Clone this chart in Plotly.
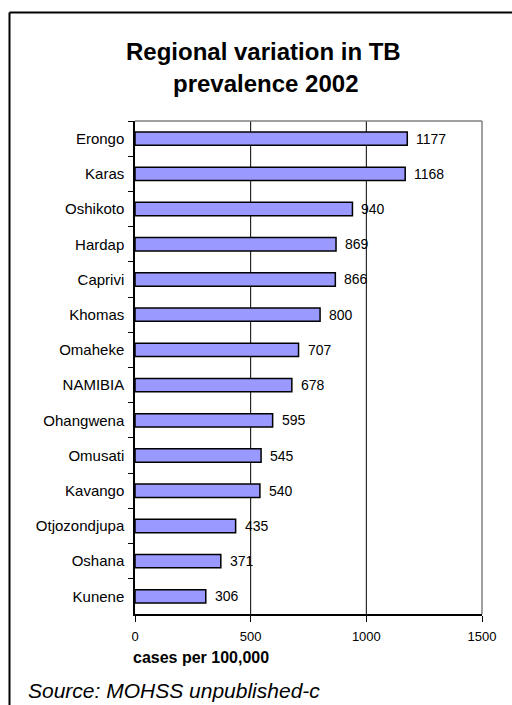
import plotly.graph_objects as go

# Regional TB prevalence, 2002 (cases per 100,000)
regions = ["Erongo", "Karas", "Oshikoto", "Hardap", "Caprivi", "Khomas", "Omaheke",
           "NAMIBIA", "Ohangwena", "Omusati", "Kavango", "Otjozondjupa", "Oshana", "Kunene"]
cases = [1177, 1168, 940, 869, 866, 800, 707, 678, 595, 545, 540, 435, 371, 306]
x_ticks = [0, 500, 1000, 1500]
grid_at = [500, 1000]

FONT = "Liberation Sans, Arial, sans-serif"
W, H = 512, 705
L, R, T, B = 135, 30, 121, 91
PW, PH = W - L - R, H - T - B


def px(x):
    return (x - L) / PW


def py(y):
    return (H - B - y) / PH


fig = go.Figure(go.Bar(
    x=cases, y=regions, orientation="h",
    marker=dict(color="#9999FF", line=dict(color="black", width=1.5)),
    width=0.38, hoverinfo="x+y",
))

# value labels just past the end of each bar
ann = []
for r, v in zip(regions, cases):
    ann.append(dict(x=v, y=r, xref="x", yref="y", text=str(v), showarrow=False,
                    xanchor="left", yanchor="middle", xshift=7,
                    font=dict(family=FONT, size=14, color="black")))

# title, axis title and source
ann += [
    dict(x=px(263), y=py(51), xref="paper", yref="paper", text="<b>Regional variation in TB</b>",
         showarrow=False, xanchor="center", yanchor="middle",
         font=dict(family=FONT, size=24, color="black")),
    dict(x=px(265), y=py(83), xref="paper", yref="paper", text="<b>prevalence 2002</b>",
         showarrow=False, xanchor="center", yanchor="middle",
         font=dict(family=FONT, size=24, color="black")),
    dict(x=px(131), y=py(657.5), xref="paper", yref="paper", text="<b>cases per 100,000</b>",
         showarrow=False, xanchor="left", yanchor="middle",
         font=dict(family=FONT, size=16, color="black")),
    dict(x=px(26), y=py(690), xref="paper", yref="paper", text="<i>Source: MOHSS unpublished-c</i>",
         showarrow=False, xanchor="left", yanchor="middle",
         font=dict(family=FONT, size=21, color="black")),
]

shapes = []
# vertical gridlines
for g in grid_at:
    shapes.append(dict(type="line", xref="x", yref="paper", x0=g, x1=g, y0=0, y1=1,
                       line=dict(color="black", width=1), layer="below"))
# grey plot frame on top and right
shapes.append(dict(type="line", xref="paper", yref="paper", x0=0, x1=1, y0=1, y1=1,
                   line=dict(color="#808080", width=1.5)))
shapes.append(dict(type="line", xref="paper", yref="paper", x0=1, x1=1, y0=0, y1=1,
                   line=dict(color="#808080", width=1.5)))
# outer chart border (top and left edges)
shapes.append(dict(type="line", xref="paper", yref="paper", x0=px(9.5), x1=px(540),
                   y0=py(12.5), y1=py(12.5), line=dict(color="black", width=2)))
shapes.append(dict(type="line", xref="paper", yref="paper", x0=px(9.5), x1=px(9.5),
                   y0=py(12.5), y1=py(720), line=dict(color="black", width=2)))

fig.update_layout(
    width=W, height=H,
    margin=dict(l=L, r=R, t=T, b=B, pad=0),
    paper_bgcolor="white", plot_bgcolor="white",
    showlegend=False,
    font=dict(family=FONT, size=12, color="black"),
    annotations=ann, shapes=shapes,
    xaxis=dict(range=[0, 1500], tickvals=x_ticks, ticktext=[str(t) for t in x_ticks],
               showgrid=False, zeroline=False, showline=True, linecolor="black", linewidth=1.5,
               ticks="outside", ticklen=6, tickcolor="black", tickwidth=1,
               ticklabelstandoff=4, tickfont=dict(family=FONT, size=13, color="black")),
    yaxis=dict(categoryorder="array", categoryarray=regions, autorange="reversed",
               showgrid=False, zeroline=False, showline=True, linecolor="black", linewidth=1.5,
               ticks="outside", ticklen=5, tickcolor="black", tickwidth=1,
               tickson="boundaries", ticklabelstandoff=6,
               tickfont=dict(family=FONT, size=15, color="black")),
)

fig.write_html("out.html")
